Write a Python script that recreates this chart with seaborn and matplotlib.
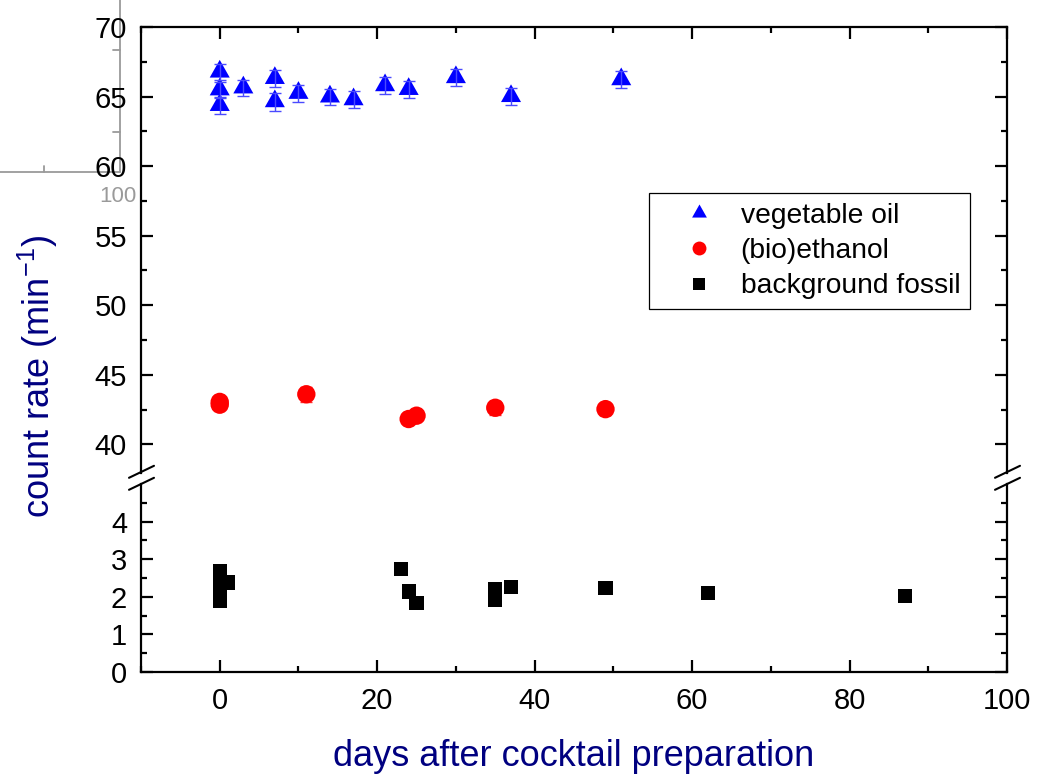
import matplotlib
matplotlib.use("Agg")
import matplotlib.pyplot as plt
from matplotlib.lines import Line2D
from matplotlib.markers import MarkerStyle
from matplotlib.path import Path
from matplotlib.ticker import FixedLocator, MultipleLocator
import pandas as pd
import seaborn as sns

# vegetable oil (days after preparation, count rate, uncertainty)
veg_days = [0, 0, 0, 3, 7, 7, 10, 14, 17, 21, 24, 30, 37, 51]
veg_rate = [66.76, 65.48, 64.36, 65.62, 66.30, 64.63, 65.23, 64.97, 64.77, 65.78, 65.51, 66.36, 65.00, 66.21]
veg_err = [0.6, 0.6, 0.6, 0.6, 0.6, 0.65, 0.6, 0.6, 0.6, 0.6, 0.6, 0.6, 0.6, 0.6]

# (bio)ethanol
eth_days = [0, 0, 11, 24, 25, 35, 49]
eth_rate = [42.85, 43.05, 43.6, 41.82, 42.06, 42.63, 42.53]
eth_err = [0.3, 0.3, 0.55, 0.3, 0.3, 0.5, 0.4]

# background fossil
bg_days = [0, 0, 0, 0, 1, 23, 24, 25, 35, 35, 37, 49, 62, 87]
bg_rate = [2.68, 2.40, 2.10, 1.90, 2.38, 2.74, 2.14, 1.83, 2.21, 1.91, 2.26, 2.23, 2.10, 2.02]

series_labels = ["vegetable oil", "(bio)ethanol", "background fossil"]
x_ticks = [0, 20, 40, 60, 80, 100]
upper_ticks = [40, 45, 50, 55, 60, 65, 70]
lower_ticks = [0, 1, 2, 3, 4]

BLUE, RED, BLACK = "#0000ff", "#ff0000", "#000000"
NAVY = "#000080"
GRAY = "#9a9a9a"

sns.set_theme(style="ticks")
plt.rcParams["font.family"] = ["Liberation Sans", "DejaVu Sans"]
plt.rcParams["text.color"] = "black"
plt.rcParams["mathtext.fontset"] = "custom"
plt.rcParams["mathtext.rm"] = "Liberation Sans"
plt.rcParams["mathtext.it"] = "Liberation Sans"

# slightly wide triangle whose anchor sits near its centroid
tri = MarkerStyle(Path([(0, 1), (-0.82, -0.45), (0.82, -0.45), (0, 1)],
                       [Path.MOVETO, Path.LINETO, Path.LINETO, Path.CLOSEPOLY]))

W, H = 1038, 776
fig = plt.figure(figsize=(W / 100, H / 100), dpi=100)
fig.patch.set_facecolor("white")


def fx(px):
    return px / W


def fy(py):
    return 1 - py / H


left, right = 141, 1007
top_up, bot_up = 27, 473
top_lo, bot_lo = 484, 672

ax_up = fig.add_axes([fx(left), fy(bot_up), (right - left) / W, (bot_up - top_up) / H])
ax_lo = fig.add_axes([fx(left), fy(bot_lo), (right - left) / W, (bot_lo - top_lo) / H], sharex=ax_up)

veg = pd.DataFrame({"days": veg_days, "rate": veg_rate})
eth = pd.DataFrame({"days": eth_days, "rate": eth_rate})
bg = pd.DataFrame({"days": bg_days, "rate": bg_rate})

sns.scatterplot(data=veg, x="days", y="rate", marker=tri, s=310, color=BLUE,
                edgecolor="none", linewidth=0, ax=ax_up, zorder=3, legend=False)
sns.scatterplot(data=eth, x="days", y="rate", marker="o", s=175, color=RED,
                edgecolor="none", linewidth=0, ax=ax_up, zorder=3, legend=False)
sns.scatterplot(data=bg, x="days", y="rate", marker="s", s=105, color=BLACK,
                edgecolor="none", linewidth=0, ax=ax_lo, zorder=3, legend=False)
ax_up.errorbar(veg_days, veg_rate, yerr=veg_err, fmt="none", ecolor="#4a4aff",
               elinewidth=1.0, capsize=4.6, capthick=1.0, zorder=4)
ax_up.errorbar(eth_days, eth_rate, yerr=eth_err, fmt="none", ecolor="#ff3030",
               elinewidth=1.0, capsize=4.6, capthick=1.0, zorder=2)

ax_up.set_xlim(-10, 100)
ax_up.set_ylim(37.94, 70)
ax_lo.set_ylim(0, 5.0)

SPINE_W = 1.6
for ax in (ax_up, ax_lo):
    ax.set_facecolor("white")
    ax.grid(False)
    for s in ax.spines.values():
        s.set_color("black")
        s.set_linewidth(SPINE_W)
    ax.tick_params(which="both", direction="in", color="black", width=SPINE_W,
                   labelsize=21, labelcolor="black")
    ax.tick_params(which="major", length=8.5)
    ax.tick_params(which="minor", length=4.3)
    ax.set_xlabel("")
    ax.set_ylabel("")

ax_up.spines["bottom"].set_visible(False)
ax_lo.spines["top"].set_visible(False)

ax_up.yaxis.set_major_locator(FixedLocator(upper_ticks))
ax_up.yaxis.set_minor_locator(FixedLocator([42.5, 47.5, 52.5, 57.5, 62.5, 67.5]))
ax_lo.yaxis.set_major_locator(FixedLocator(lower_ticks))
ax_lo.yaxis.set_minor_locator(FixedLocator([0.5, 1.5, 2.5, 3.5, 4.5]))
ax_lo.xaxis.set_major_locator(FixedLocator(x_ticks))
ax_lo.xaxis.set_minor_locator(MultipleLocator(10))

ax_up.tick_params(axis="x", which="both", top=True, bottom=False, labelbottom=False, labeltop=False)
ax_up.tick_params(axis="y", which="both", left=True, right=True, labelleft=True, labelright=False, pad=10)
ax_lo.tick_params(axis="x", which="both", top=False, bottom=True, labelbottom=True, pad=11)
ax_lo.tick_params(axis="y", which="both", left=True, right=True, labelleft=True, labelright=False, pad=10)

ax_lo.set_xlabel("days after cocktail preparation", fontsize=26, color=NAVY, labelpad=17)
fig.text(fx(38), fy(377), "count rate (min$^{\\mathregular{-1}}$)", rotation=90,
         ha="center", va="center", fontsize=26, color=NAVY)

# axis break marks on both sides
for cx in (left, right):
    for cy in (472, 484):
        fig.add_artist(Line2D([fx(cx - 12), fx(cx + 13)], [fy(cy + 5.8), fy(cy - 6.2)],
                              color="black", lw=1.5, transform=fig.transFigure))

# legend
handles = [
    Line2D([], [], marker=tri, linestyle="none", color=BLUE, markersize=13, markeredgewidth=0),
    Line2D([], [], marker="o", linestyle="none", color=RED, markersize=10, markeredgewidth=0),
    Line2D([], [], marker="s", linestyle="none", color=BLACK, markersize=8.5, markeredgewidth=0),
]
leg = ax_up.legend(handles, series_labels, loc="upper left",
                   bbox_to_anchor=(fx(649), fy(193)), bbox_transform=fig.transFigure,
                   borderaxespad=0, fontsize=20.3, frameon=True, fancybox=False,
                   framealpha=1, edgecolor="black", borderpad=0.35,
                   handlelength=2.85, handletextpad=0.05, labelspacing=0.33,
                   labelcolor="black")
leg.get_frame().set_linewidth(0.9)

# faint gray frame fragment in the upper-left corner
for xs, ys in (([119.5, 119.5], [0, 172]), ([0, 119.5], [172, 172]),
               ([113, 119.5], [50, 50]), ([113, 119.5], [132, 132]),
               ([44, 44], [166, 172])):
    fig.add_artist(Line2D([fx(v) for v in xs], [fy(v) for v in ys], color=GRAY,
                          lw=1.3, transform=fig.transFigure, zorder=0))
fig.text(fx(118), fy(196), "100", ha="center", va="center", fontsize=16, color=GRAY)

fig.savefig("out.png", dpi=100, facecolor="white")
